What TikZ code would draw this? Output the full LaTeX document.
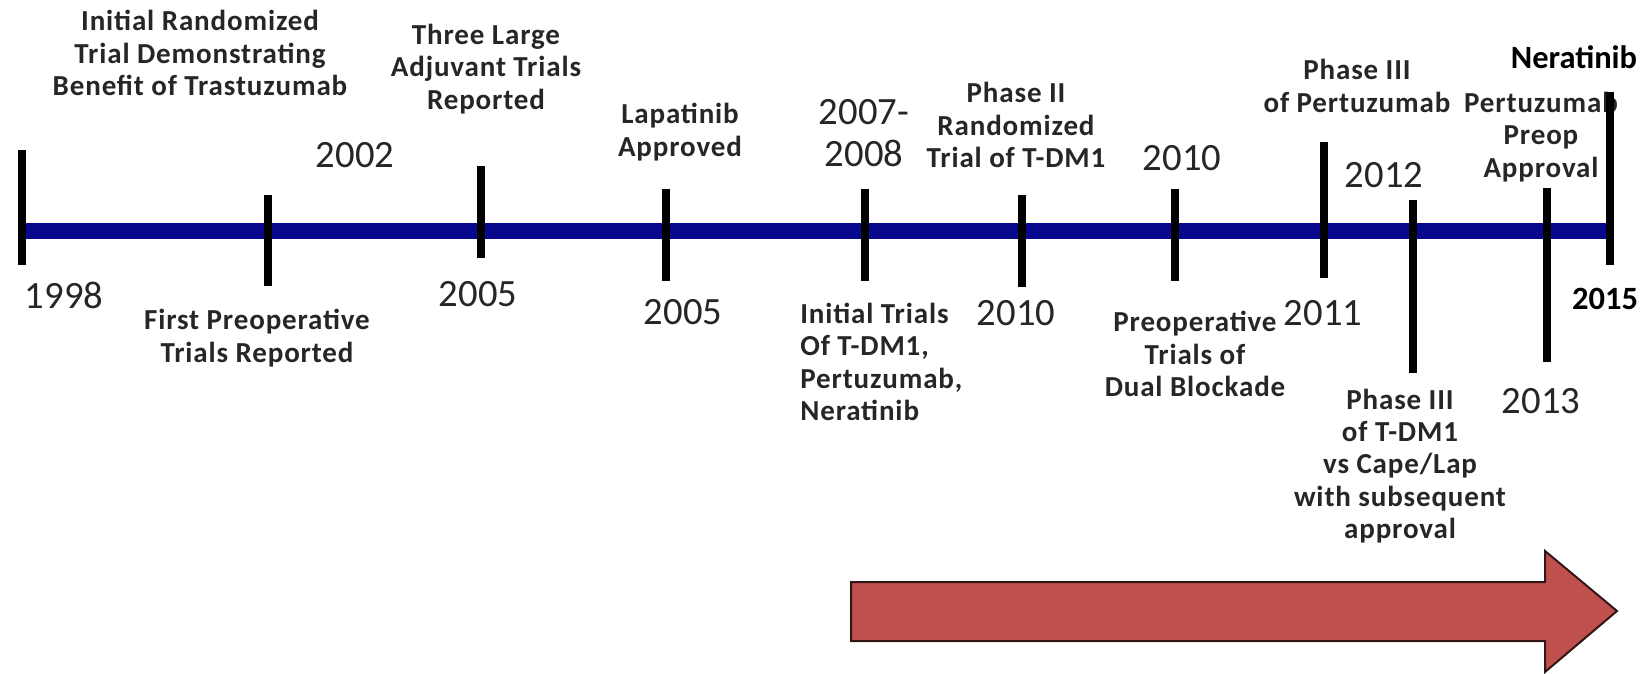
\documentclass[tikz,border=0pt]{standalone}
\usepackage{fontspec}
\setmainfont{Carlito}
\newfontfamily\labelfont{Carlito}[LetterSpace=3]
\definecolor{axisblue}{RGB}{8,8,140}
\definecolor{arrowred}{RGB}{192,80,77}
\definecolor{arrowedge}{RGB}{50,22,22}
\begin{document}
\begin{tikzpicture}[
        x = 0.2mm, % one unit is one pixel
        y = -0.2mm, % y runs downwards
        inner sep = 0pt
      ]

      \tikzstyle{event}=[font=\labelfont\bfseries\fontsize{16.5}{18.4}\selectfont, text=black!85, align=center]
      \tikzstyle{year}=[font=\fontsize{22}{24}\selectfont, text=black!85, align=center]
      \tikzstyle{lastyear}=[font=\bfseries\fontsize{18.5}{20}\selectfont, text=black]
      \tikzstyle{tick}=[line width=1.7mm, black]

      \useasboundingbox (0,0) rectangle (1646,674);

      % labels above and below the axis
      \node[event] (ev1998) at (200,53) {Initial Randomized\\Trial Demonstrating\\Benefit of Trastuzumab};
      \node[year] (y1998) at (64,295) {1998};
      \node[year] (y2002) at (355,155) {2002};
      \node[event] (ev2002) at (257,338) {First Preoperative\\Trials Reported};
      \node[event] (ev2005a) at (486,69) {Three Large\\Adjuvant Trials\\Reported};
      \node[year] (y2005a) at (478,294) {2005};
      \node[event] (ev2005b) at (680,132) {Lapatinib\\Approved};
      \node[year] (y2005b) at (683,312) {2005};
      \node[year] (y2007) at (864,133) {2007-\\2008};
      \node[event, align=left, anchor=west] (ev2007) at (800,362) {Initial Trials\\Of T-DM1,\\Pertuzumab,\\Neratinib};
      \node[event] (ev2010a) at (1016,125) {Phase II\\Randomized\\Trial of T-DM1};
      \node[year] (y2010a) at (1016,313) {2010};
      \node[year] (y2010b) at (1182,158) {2010};
      \node[event] (ev2010b) at (1195,354) {Preoperative\\Trials of\\Dual Blockade};
      \node[event] (ev2011) at (1357,86) {Phase III\\of Pertuzumab};
      \node[year] (y2011) at (1323,313) {2011};
      \node[year] (y2012) at (1384,175) {2012};
      \node[event] (ev2012) at (1400,466) {Phase III\\of T-DM1\\vs Cape/Lap\\with subsequent\\approval};
      \node[event] (ev2013) at (1541,137) {Pertuzumab\\Preop\\Approval};
      \node[year] (y2013) at (1541,401) {2013};
      \node[lastyear] (ev2015) at (1574,57) {Neratinib};
      \node[lastyear] (y2015) at (1605,299) {2015};

      % time axis
      \draw[axisblue, line width=3.2mm] (22,231) -- (1612,231);

      % year ticks
      \draw[tick] (22,150) -- (22,265);
      \draw[tick] (268,195) -- (268,286);
      \draw[tick] (481,166) -- (481,258);
      \draw[tick] (666,189) -- (666,281);
      \draw[tick] (865,189) -- (865,281);
      \draw[tick] (1022,195) -- (1022,287);
      \draw[tick] (1175,189) -- (1175,281);
      \draw[tick] (1324,142) -- (1324,278);
      \draw[tick] (1413,200) -- (1413,373);
      \draw[tick] (1547,188) -- (1547,362);
      \draw[tick] (1610,92) -- (1610,265);

      % big arrow at the bottom
      \draw[fill=arrowred, draw=arrowedge, line width=0.4mm, line join=miter]
        (851,582) -- (1545,582) -- (1545,551) -- (1617,611)
        -- (1545,672) -- (1545,641) -- (851,641) -- cycle;

    \end{tikzpicture}
\end{document}
